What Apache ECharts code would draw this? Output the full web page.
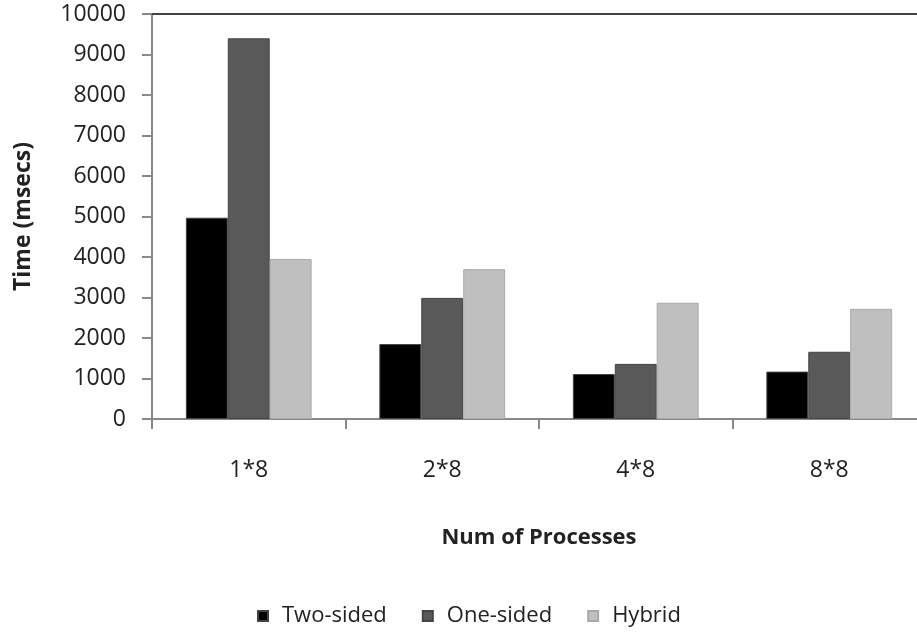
<!DOCTYPE html>
<html><head><meta charset="utf-8">
<script src="https://cdn.jsdelivr.net/npm/echarts@6/dist/echarts.min.js"></script>
<style>html,body{margin:0;padding:0;background:#fff;overflow:hidden;width:917px;height:634px}#c{width:926px;height:634px}</style>
</head><body><div id="c"></div>
<script>
const categories = ['1*8', '2*8', '4*8', '8*8'];
const twoSided = [4970, 1850, 1110, 1170];
const oneSided = [9400, 2990, 1360, 1660];
const hybrid = [3950, 3700, 2870, 2720];
const seriesNames = ['Two-sided', 'One-sided', 'Hybrid'];
const seriesColors = ['#000000', '#595959', '#bfbfbf'];

const font = 'Open Sans';
const chart = echarts.init(document.getElementById('c'));
const vals = [twoSided, oneSided, hybrid];
chart.setOption({
  animation: false,
  textStyle: { fontFamily: font },
  grid: { left: 152, right: 0, top: 14, bottom: 215, containLabel: false },
  legend: {
    bottom: 2, left: 252, itemWidth: 10, itemHeight: 10, itemGap: 35,
    icon: 'rect',
    textStyle: { fontFamily: font, fontSize: 22, color: '#222', padding: [0, 0, 0, 9] },
    data: seriesNames
  },
  xAxis: [{
    type: 'category', data: categories,
    name: 'Num of Processes', nameLocation: 'middle', nameGap: 108,
    nameTextStyle: { fontFamily: font, fontSize: 22, fontWeight: 'bold', color: '#222' },
    axisLine: { lineStyle: { color: '#888', width: 2 } },
    axisTick: { show: true, length: 10, lineStyle: { color: '#888', width: 2 } },
    axisLabel: { fontFamily: font, fontSize: 23, color: '#222', margin: 40 }
  }, {
    type: 'category', data: categories, position: 'top',
    axisLine: { lineStyle: { color: '#444', width: 2 } },
    axisTick: { show: false }, axisLabel: { show: false }
  }],
  yAxis: {
    type: 'value', min: 0, max: 10000, interval: 1000,
    name: 'Time (msecs)', nameLocation: 'middle', nameGap: 117,
    nameTextStyle: { fontFamily: font, fontSize: 23, fontWeight: 'bold', color: '#222' },
    axisLine: { show: true, lineStyle: { color: '#888', width: 2 } },
    axisTick: { show: true, length: 10, lineStyle: { color: '#888', width: 2 } },
    axisLabel: { fontFamily: font, fontSize: 23, color: '#222', margin: 26, formatter: v => String(v) },
    splitLine: { show: false }
  },
  series: seriesNames.map((n, i) => ({
    name: n, type: 'bar', data: vals[i],
    barGap: '0%', barCategoryGap: '35%',
    itemStyle: { color: seriesColors[i], borderColor: i === 2 ? '#aaa' : '#444', borderWidth: 1 }
  }))
});
</script></body></html>
